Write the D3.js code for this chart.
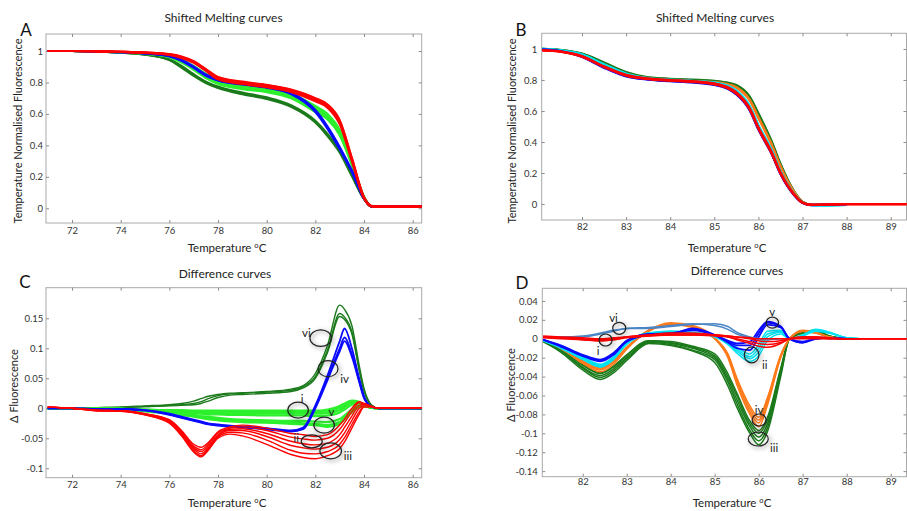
<!DOCTYPE html>
<html><head><meta charset="utf-8">
<script src="https://cdn.jsdelivr.net/npm/d3@7"></script>
<style>
body{margin:0;background:#fff;}
svg{display:block;font-family:Lato,"Open Sans",sans-serif;}
</style></head><body>
<svg id="chart" width="907" height="511"></svg>
<script>
// ---------------- DATA ----------------
// Panel A : shifted melting curves (temperature grid + replicate curves per group)
const tempsA = [71, 72, 73, 74, 75, 76, 76.5, 77, 77.5, 78, 79, 80, 81, 82, 82.5, 83, 83.5, 84, 84.3, 84.6, 85, 86, 86.5];
const meltA_darkgreen = [
  [1.0, 1.0, 0.996, 0.99, 0.978, 0.945, 0.9, 0.847, 0.8, 0.77, 0.73, 0.7, 0.65, 0.55, 0.466, 0.36, 0.21, 0.06, 0.012, 0.01, 0.01, 0.01, 0.01],
  [1.0, 1.0, 0.996, 0.99, 0.977, 0.942, 0.895, 0.842, 0.796, 0.765, 0.725, 0.695, 0.645, 0.545, 0.46, 0.355, 0.205, 0.058, 0.012, 0.01, 0.01, 0.01, 0.01],
  [1.0, 1.0, 0.996, 0.99, 0.979, 0.948, 0.905, 0.852, 0.805, 0.774, 0.735, 0.705, 0.655, 0.556, 0.472, 0.365, 0.215, 0.062, 0.012, 0.01, 0.01, 0.01, 0.01]
];
const meltA_green = [
  [1.0, 1.0, 0.997, 0.993, 0.985, 0.97, 0.945, 0.905, 0.855, 0.815, 0.785, 0.765, 0.73, 0.65, 0.6, 0.5, 0.3, 0.075, 0.012, 0.01, 0.01, 0.01, 0.01],
  [1.0, 1.0, 0.997, 0.993, 0.985, 0.968, 0.94, 0.898, 0.847, 0.808, 0.778, 0.758, 0.722, 0.64, 0.59, 0.49, 0.29, 0.07, 0.012, 0.01, 0.01, 0.01, 0.01],
  [1.0, 1.0, 0.997, 0.992, 0.984, 0.965, 0.935, 0.892, 0.84, 0.8, 0.77, 0.75, 0.715, 0.63, 0.58, 0.48, 0.285, 0.07, 0.012, 0.01, 0.01, 0.01, 0.01],
  [1.0, 1.0, 0.997, 0.992, 0.983, 0.962, 0.93, 0.886, 0.833, 0.795, 0.763, 0.743, 0.706, 0.62, 0.57, 0.47, 0.28, 0.068, 0.012, 0.01, 0.01, 0.01, 0.01],
  [1.0, 1.0, 0.996, 0.991, 0.982, 0.96, 0.926, 0.88, 0.828, 0.79, 0.758, 0.738, 0.7, 0.612, 0.565, 0.465, 0.275, 0.065, 0.012, 0.01, 0.01, 0.01, 0.01]
];
const meltA_blue = [
  [1.0, 1.0, 0.997, 0.993, 0.985, 0.97, 0.945, 0.9, 0.85, 0.82, 0.795, 0.775, 0.735, 0.625, 0.52, 0.39, 0.24, 0.065, 0.012, 0.01, 0.01, 0.01, 0.01],
  [1.0, 1.0, 0.997, 0.993, 0.985, 0.968, 0.94, 0.895, 0.845, 0.815, 0.79, 0.77, 0.73, 0.618, 0.512, 0.382, 0.235, 0.063, 0.012, 0.01, 0.01, 0.01, 0.01],
  [1.0, 1.0, 0.997, 0.992, 0.984, 0.966, 0.938, 0.893, 0.843, 0.812, 0.787, 0.767, 0.726, 0.612, 0.505, 0.375, 0.23, 0.06, 0.012, 0.01, 0.01, 0.01, 0.01]
];
const meltA_red = [
  [1.0, 1.0, 0.998, 0.995, 0.99, 0.98, 0.965, 0.935, 0.885, 0.835, 0.805, 0.785, 0.755, 0.7, 0.66, 0.56, 0.32, 0.07, 0.015, 0.01, 0.01, 0.01, 0.01],
  [1.0, 1.0, 0.998, 0.995, 0.99, 0.978, 0.96, 0.93, 0.88, 0.828, 0.798, 0.778, 0.748, 0.69, 0.65, 0.548, 0.31, 0.066, 0.013, 0.01, 0.01, 0.01, 0.01],
  [1.0, 1.0, 0.998, 0.994, 0.988, 0.975, 0.956, 0.925, 0.874, 0.82, 0.79, 0.77, 0.74, 0.68, 0.64, 0.535, 0.3, 0.062, 0.012, 0.01, 0.01, 0.01, 0.01],
  [1.0, 1.0, 0.998, 0.995, 0.99, 0.979, 0.962, 0.932, 0.882, 0.831, 0.801, 0.781, 0.751, 0.695, 0.655, 0.552, 0.315, 0.068, 0.014, 0.01, 0.01, 0.01, 0.01]
];

// Panel B : shifted melting curves
const tempsB = [81.1, 81.5, 82, 82.5, 83, 83.5, 84, 84.5, 85, 85.3, 85.5, 85.8, 86, 86.3, 86.5, 86.8, 87, 87.2, 87.5, 88, 88.5, 89, 89.4];
const meltB_darkgreen = [
  [1.0, 0.993, 0.968, 0.91, 0.848, 0.815, 0.806, 0.8, 0.793, 0.78, 0.765, 0.69, 0.58, 0.4, 0.255, 0.085, 0.014, -0.004, -0.004, 0, null, null, null],
  [1.0, 0.994, 0.97, 0.913, 0.851, 0.817, 0.808, 0.802, 0.795, 0.783, 0.768, 0.695, 0.585, 0.405, 0.26, 0.087, 0.015, -0.004, -0.004, 0, null, null, null]
];
const meltB_orange = [
  [0.995, 0.988, 0.958, 0.898, 0.838, 0.808, 0.796, 0.79, 0.784, 0.77, 0.75, 0.668, 0.553, 0.38, 0.24, 0.08, 0.012, -0.006, -0.006, -0.001, null, null, null],
  [0.996, 0.989, 0.96, 0.9, 0.84, 0.81, 0.798, 0.792, 0.786, 0.773, 0.754, 0.674, 0.56, 0.386, 0.245, 0.082, 0.013, -0.005, -0.006, -0.001, null, null, null]
];
const meltB_cyan = [
  [1.0, 0.99, 0.962, 0.897, 0.838, 0.81, 0.8, 0.793, 0.781, 0.76, 0.728, 0.63, 0.505, 0.345, 0.21, 0.068, 0.009, -0.008, -0.01, -0.006, null, null, null],
  [1.0, 0.992, 0.965, 0.902, 0.842, 0.812, 0.802, 0.795, 0.784, 0.764, 0.733, 0.635, 0.51, 0.35, 0.214, 0.07, 0.01, -0.008, -0.01, -0.006, null, null, null]
];
const meltB_blue = [
  [0.995, 0.985, 0.948, 0.878, 0.823, 0.802, 0.792, 0.784, 0.768, 0.743, 0.707, 0.605, 0.48, 0.322, 0.193, 0.06, 0.007, -0.007, -0.005, -0.001, null, null, null],
  [0.997, 0.987, 0.951, 0.882, 0.826, 0.804, 0.794, 0.786, 0.771, 0.746, 0.71, 0.608, 0.483, 0.326, 0.196, 0.062, 0.008, -0.006, -0.005, -0.001, null, null, null]
];
const meltB_red = [
  [0.99, 0.983, 0.952, 0.885, 0.83, 0.807, 0.797, 0.79, 0.775, 0.75, 0.715, 0.615, 0.49, 0.33, 0.2, 0.065, 0.008, -0.006, -0.004, 0, 0, 0, 0],
  [0.992, 0.985, 0.955, 0.888, 0.833, 0.81, 0.8, 0.793, 0.778, 0.754, 0.72, 0.62, 0.495, 0.335, 0.205, 0.067, 0.009, -0.005, -0.003, 0, 0, 0, 0],
  [0.99, 0.982, 0.95, 0.882, 0.828, 0.805, 0.795, 0.788, 0.772, 0.747, 0.712, 0.61, 0.485, 0.325, 0.197, 0.063, 0.008, -0.006, -0.004, 0, 0, 0, 0]
];

// Panel C : difference curves
const tempsC = [71, 72, 73, 74, 75, 76, 76.5, 77, 77.3, 77.6, 78, 78.5, 79, 80, 81, 81.5, 82, 82.5, 83, 83.2, 83.5, 83.8, 84, 84.3, 84.6, 85, 86, 86.5];
const diffC_darkgreen = [
  [0, 0, 0.001, 0.002, 0.004, 0.006, 0.008, 0.012, 0.016, 0.02, 0.023, 0.025, 0.026, 0.028, 0.032, 0.038, 0.058, 0.105, 0.172, 0.165, 0.138, 0.072, 0.033, 0.006, 0, 0, 0, 0],
  [0, 0, 0.001, 0.002, 0.003, 0.005, 0.006, 0.008, 0.011, 0.016, 0.021, 0.024, 0.025, 0.027, 0.03, 0.036, 0.053, 0.097, 0.158, 0.152, 0.128, 0.066, 0.03, 0.005, 0, 0, 0, 0],
  [0, 0, 0.001, 0.001, 0.003, 0.004, 0.005, 0.006, 0.008, 0.012, 0.018, 0.022, 0.023, 0.025, 0.028, 0.034, 0.05, 0.093, 0.153, 0.148, 0.124, 0.064, 0.029, 0.005, 0, 0, 0, 0]
];
const diffC_green = [
  [0, 0, 0, -0.001, -0.002, -0.003, -0.003, -0.004, -0.004, -0.004, -0.004, -0.004, -0.004, -0.004, -0.004, -0.004, -0.004, -0.002, 0.004, 0.008, 0.013, 0.011, 0.006, 0.001, 0, 0, 0, 0],
  [0, 0, 0, -0.001, -0.002, -0.004, -0.005, -0.006, -0.006, -0.006, -0.006, -0.006, -0.006, -0.006, -0.006, -0.006, -0.006, -0.005, 0.001, 0.005, 0.011, 0.01, 0.005, 0.001, 0, 0, 0, 0],
  [0, 0, 0, -0.001, -0.003, -0.005, -0.006, -0.007, -0.007, -0.008, -0.008, -0.008, -0.008, -0.009, -0.009, -0.009, -0.009, -0.008, -0.003, 0.002, 0.009, 0.009, 0.005, 0.001, 0, 0, 0, 0],
  [0, 0, 0, -0.001, -0.003, -0.006, -0.007, -0.008, -0.009, -0.01, -0.01, -0.011, -0.011, -0.012, -0.012, -0.012, -0.013, -0.012, -0.007, -0.002, 0.006, 0.008, 0.005, 0.001, 0, 0, 0, 0],
  [0, 0, 0, -0.001, -0.004, -0.007, -0.009, -0.011, -0.013, -0.014, -0.016, -0.018, -0.019, -0.02, -0.021, -0.021, -0.022, -0.023, -0.018, -0.012, -0.002, 0.005, 0.004, 0.001, 0, 0, 0, 0],
  [0, 0, 0, -0.002, -0.004, -0.008, -0.01, -0.013, -0.015, -0.016, -0.018, -0.02, -0.021, -0.023, -0.024, -0.025, -0.026, -0.028, -0.023, -0.016, -0.005, 0.003, 0.004, 0.001, 0, 0, 0, 0],
  [0, 0, 0, -0.002, -0.005, -0.009, -0.011, -0.014, -0.016, -0.018, -0.02, -0.022, -0.023, -0.024, -0.026, -0.027, -0.028, -0.031, -0.026, -0.018, -0.007, 0.002, 0.003, 0.001, 0, 0, 0, 0]
];
const diffC_blue = [
  [0, 0, -0.001, -0.001, -0.003, -0.009, -0.014, -0.019, -0.022, -0.025, -0.027, -0.029, -0.03, -0.033, -0.037, -0.032, 0.005, 0.055, 0.112, 0.133, 0.1, 0.05, 0.02, 0.003, 0, 0, 0, 0],
  [0, 0, -0.001, -0.001, -0.003, -0.01, -0.015, -0.02, -0.023, -0.026, -0.028, -0.03, -0.031, -0.034, -0.038, -0.034, 0.002, 0.05, 0.1, 0.118, 0.09, 0.046, 0.018, 0.003, 0, 0, 0, 0],
  [0, 0, -0.001, -0.002, -0.004, -0.011, -0.016, -0.021, -0.024, -0.027, -0.029, -0.031, -0.032, -0.035, -0.039, -0.035, 0, 0.047, 0.095, 0.112, 0.086, 0.044, 0.017, 0.003, 0, 0, 0, 0]
];
const diffC_red = [
  [0.002, 0, -0.003, -0.004, -0.009, -0.019, -0.037, -0.06, -0.065, -0.057, -0.039, -0.031, -0.028, -0.033, -0.042, -0.044, -0.047, -0.044, -0.028, -0.018, 0, 0.011, 0.008, 0.003, 0, 0, 0, 0],
  [0.002, 0, -0.003, -0.004, -0.009, -0.02, -0.039, -0.063, -0.069, -0.06, -0.041, -0.033, -0.031, -0.037, -0.048, -0.051, -0.053, -0.05, -0.035, -0.024, -0.006, 0.009, 0.008, 0.003, 0, 0, 0, 0],
  [0.002, 0, -0.003, -0.004, -0.01, -0.021, -0.04, -0.066, -0.072, -0.063, -0.044, -0.035, -0.034, -0.042, -0.055, -0.059, -0.061, -0.058, -0.044, -0.032, -0.013, 0.005, 0.007, 0.003, 0, 0, 0, 0],
  [0.002, 0, -0.004, -0.004, -0.01, -0.022, -0.042, -0.068, -0.076, -0.066, -0.046, -0.037, -0.037, -0.047, -0.062, -0.066, -0.068, -0.065, -0.052, -0.041, -0.02, 0, 0.006, 0.003, 0, 0, 0, 0],
  [0.002, 0, -0.004, -0.004, -0.011, -0.024, -0.044, -0.071, -0.079, -0.068, -0.048, -0.04, -0.041, -0.053, -0.07, -0.075, -0.076, -0.072, -0.06, -0.049, -0.027, -0.006, 0.004, 0.003, 0, 0, 0, 0],
  [0.002, 0, -0.004, -0.005, -0.011, -0.025, -0.046, -0.073, -0.081, -0.07, -0.05, -0.043, -0.046, -0.06, -0.077, -0.082, -0.084, -0.079, -0.067, -0.056, -0.033, -0.01, 0.002, 0.002, 0, 0, 0, 0]
];

// Panel D : difference curves
const tempsD = [81.1, 81.5, 82, 82.4, 82.7, 83, 83.5, 84, 84.5, 85, 85.3, 85.5, 85.8, 86, 86.2, 86.5, 86.7, 87, 87.3, 87.6, 88, 88.3, 89, 89.4];
const diffD_darkgreen = [
  [-0.003, -0.014, -0.033, -0.043, -0.036, -0.023, -0.005, -0.007, -0.013, -0.025, -0.05, -0.072, -0.1, -0.112, -0.098, -0.04, 0, 0.007, 0.009, 0.003, 0, null, null, null],
  [-0.003, -0.013, -0.031, -0.041, -0.034, -0.021, -0.004, -0.006, -0.012, -0.022, -0.046, -0.068, -0.097, -0.108, -0.094, -0.037, 0, 0.007, 0.009, 0.003, 0, null, null, null],
  [-0.003, -0.012, -0.03, -0.039, -0.032, -0.02, -0.003, -0.005, -0.01, -0.02, -0.043, -0.064, -0.093, -0.104, -0.09, -0.035, 0, 0.006, 0.008, 0.003, 0, null, null, null],
  [-0.002, -0.011, -0.028, -0.037, -0.03, -0.018, -0.002, -0.004, -0.009, -0.018, -0.04, -0.06, -0.09, -0.1, -0.086, -0.033, 0, 0.006, 0.008, 0.002, 0, null, null, null],
  [-0.002, -0.011, -0.027, -0.036, -0.029, -0.017, -0.002, -0.003, -0.008, -0.016, -0.037, -0.057, -0.087, -0.097, -0.083, -0.031, 0, 0.006, 0.007, 0.002, 0, null, null, null]
];
const diffD_orange = [
  [-0.002, -0.01, -0.026, -0.035, -0.027, -0.011, 0.008, 0.016, 0.013, 0.0, -0.02, -0.048, -0.08, -0.093, -0.07, -0.02, 0, 0.008, 0.006, 0.002, 0, null, null, null],
  [-0.002, -0.01, -0.025, -0.033, -0.025, -0.01, 0.009, 0.017, 0.014, 0.001, -0.018, -0.045, -0.077, -0.089, -0.067, -0.019, 0, 0.009, 0.007, 0.002, 0, null, null, null],
  [-0.002, -0.009, -0.024, -0.032, -0.024, -0.009, 0.009, 0.016, 0.013, 0.001, -0.017, -0.043, -0.074, -0.086, -0.064, -0.018, 0, 0.008, 0.006, 0.002, 0, null, null, null],
  [-0.002, -0.009, -0.023, -0.031, -0.023, -0.009, 0.008, 0.015, 0.012, 0.0, -0.016, -0.041, -0.071, -0.083, -0.062, -0.017, 0, 0.008, 0.006, 0.002, 0, null, null, null]
];
const diffD_cyan = [
  [-0.002, -0.01, -0.022, -0.03, -0.022, -0.006, 0.005, 0.007, 0.006, 0.002, -0.006, -0.015, -0.024, -0.018, -0.002, 0.005, 0, 0.004, 0.009, 0.007, 0.001, 0, null, null],
  [-0.002, -0.009, -0.021, -0.029, -0.021, -0.005, 0.006, 0.007, 0.006, 0.002, -0.005, -0.013, -0.021, -0.014, 0.002, 0.007, 0, 0.004, 0.01, 0.007, 0.001, 0, null, null],
  [-0.002, -0.009, -0.02, -0.028, -0.02, -0.004, 0.006, 0.008, 0.006, 0.003, -0.004, -0.011, -0.019, -0.01, 0.005, 0.008, 0, 0.003, 0.009, 0.006, 0.001, 0, null, null],
  [-0.002, -0.008, -0.019, -0.027, -0.019, -0.004, 0.006, 0.008, 0.007, 0.003, -0.003, -0.009, -0.016, -0.006, 0.008, 0.009, 0, 0.003, 0.008, 0.006, 0.001, 0, null, null]
];
const diffD_blue = [
  [-0.001, -0.008, -0.018, -0.024, -0.017, -0.003, 0.004, 0.005, 0.011, 0.004, -0.004, -0.01, -0.012, 0.002, 0.015, 0.012, 0, -0.004, 0.001, 0.001, 0, 0, null, null],
  [-0.001, -0.008, -0.018, -0.023, -0.016, -0.002, 0.005, 0.005, 0.01, 0.004, -0.003, -0.007, -0.007, 0.006, 0.017, 0.013, 0, -0.004, 0, 0.001, 0, 0, null, null],
  [-0.001, -0.007, -0.017, -0.022, -0.015, -0.002, 0.005, 0.006, 0.009, 0.004, -0.002, -0.005, -0.003, 0.009, 0.018, 0.013, 0, -0.003, 0, 0.001, 0, 0, null, null]
];
const diffD_steelblue = [
  [0.002, 0.002, 0.002, 0.005, 0.008, 0.011, 0.011, 0.013, 0.015, 0.016, 0.013, 0.007, 0.002, 0, -0.001, 0, 0, 0.001, 0.001, 0, 0, 0, null, null],
  [0.002, 0.002, 0.003, 0.006, 0.009, 0.011, 0.012, 0.014, 0.016, 0.014, 0.01, 0.005, 0.001, 0, 0, 0, 0, 0.002, 0.002, 0.001, 0, 0, null, null]
];
const diffD_red = [
  [0.002, 0.001, 0, -0.001, 0, 0.002, 0.004, 0.005, 0.005, 0.004, 0.003, 0.002, 0, -0.002, -0.003, -0.002, 0, 0.001, 0.001, 0, 0, 0, 0, 0],
  [0.002, 0.001, -0.001, -0.002, -0.001, 0.001, 0.003, 0.004, 0.004, 0.003, 0.002, 0, -0.003, -0.005, -0.006, -0.004, 0, 0.002, 0.002, 0.001, 0, 0, 0, 0],
  [0.001, 0, -0.001, -0.002, -0.001, 0.002, 0.004, 0.006, 0.006, 0.004, 0.002, -0.001, -0.005, -0.008, -0.009, -0.005, 0, 0.002, 0.002, 0.001, 0, 0, 0, 0],
  [0.003, 0.002, 0.001, 0, 0.001, 0.002, 0.003, 0.004, 0.004, 0.004, 0.003, 0.002, 0.001, 0, 0, 0, 0, 0, 0, 0, 0, 0, 0, 0]
];

// Tick values
const xTicksAC = [72, 74, 76, 78, 80, 82, 84, 86];
const xTicksBD = [82, 83, 84, 85, 86, 87, 88, 89];
const yTicksAB = [0, 0.2, 0.4, 0.6, 0.8, 1];
const yTicksC = [-0.1, -0.05, 0, 0.05, 0.1, 0.15];
const yTicksD = [-0.14, -0.12, -0.1, -0.08, -0.06, -0.04, -0.02, 0, 0.02, 0.04];

// Annotations: [label, ellipse T, ellipse value, label T, label value]
const annotC = [
  ["vi", 82.22, 0.117, 81.63, 0.126],
  ["iv", 82.52, 0.066, 83.2, 0.049],
  ["i", 81.29, -0.003, 81.46, 0.016],
  ["v", 82.36, -0.028, 82.66, -0.006],
  ["ii", 81.85, -0.055, 81.21, -0.049],
  ["iii", 82.63, -0.071, 83.34, -0.078]
];
const annotD = [
  ["vi", 82.83, 0.0111, 82.70, 0.0228],
  ["i", 82.52, -0.0013, 82.35, -0.0119],
  ["v", 86.31, 0.017, 86.31, 0.0287],
  ["ii", 85.84, -0.0171, 86.14, -0.0277],
  ["iv", 86.01, -0.0859, 86.01, -0.0743],
  ["iii", 85.99, -0.106, 86.35, -0.1152]
];

// ---------------- STYLE / LAYOUT ----------------
const COLORS = {red:"#ff0000", green:"#2cf02c", darkgreen:"#1b7a1b", blue:"#0a0aff",
                cyan:"#00e1f2", orange:"#ff7a1a", steelblue:"#4a86c5"};
const ellipseRadiiC = [[10.8,8.3],[10,8],[10.3,8],[10.3,8],[10.5,6.5],[10.8,8]];
const ellipseRadiiD = [[6.5,6],[6.5,6],[6.2,5.5],[7.3,8],[7,6],[10,7]];

const svg = d3.select("#chart");
const defs = svg.append("defs");
const shadow = defs.append("filter").attr("id", "shade").attr("x", "-50%").attr("y", "-50%").attr("width", "200%").attr("height", "200%");
shadow.append("feGaussianBlur").attr("stdDeviation", 2);

function panel(p) {
  const x = d3.scaleLinear().domain(p.xDomain).range([p.left, p.right]);
  const y = d3.scaleLinear().domain(p.yDomain).range([p.bottom, p.top]);
  const g = svg.append("g");
  const clipId = "clip" + p.id;
  defs.append("clipPath").attr("id", clipId).append("rect")
    .attr("x", p.left).attr("y", p.top).attr("width", p.right - p.left).attr("height", p.bottom - p.top);

  // frame
  g.append("rect").attr("x", p.left).attr("y", p.top).attr("width", p.right - p.left)
    .attr("height", p.bottom - p.top).attr("fill", "none").attr("stroke", "#a9a9a9").attr("stroke-width", 1);

  const styleAxis = sel => {
    sel.select(".domain").remove();
    sel.selectAll(".tick line").attr("stroke", "#8c8c8c");
    sel.selectAll(".tick text").attr("fill", "#333").style("font-size", "9.5px").style("font-family", "Lato, 'Open Sans', sans-serif");
  };
  g.append("g").attr("transform", `translate(0,${p.bottom})`)
    .call(d3.axisBottom(x).tickValues(p.xTicks).tickSizeInner(-3).tickSizeOuter(0).tickPadding(p.xPad).tickFormat(d => String(d)))
    .call(styleAxis);
  g.append("g").attr("transform", `translate(0,${p.top})`)
    .call(d3.axisTop(x).tickValues(p.xTicks).tickSizeInner(-3).tickSizeOuter(0).tickFormat(""))
    .call(styleAxis);
  g.append("g").attr("transform", `translate(${p.left},0)`)
    .call(d3.axisLeft(y).tickValues(p.yTicks).tickSizeInner(-3).tickSizeOuter(0).tickPadding(p.yPad).tickFormat(d => String(+d.toFixed(3))))
    .call(styleAxis);
  g.append("g").attr("transform", `translate(${p.right},0)`)
    .call(d3.axisRight(y).tickValues(p.yTicks).tickSizeInner(-3).tickSizeOuter(0).tickFormat(""))
    .call(styleAxis);

  // curves
  const line = d3.line().defined(d => d[1] !== null)
    .x(d => x(d[0])).y(d => y(d[1])).curve(d3.curveMonotoneX);
  const cg = g.append("g").attr("clip-path", `url(#${clipId})`);
  p.groups.forEach(grp => {
    grp.curves.forEach(vals => {
      cg.append("path").datum(p.temps.map((t, i) => [t, vals[i]]))
        .attr("d", line).attr("fill", "none").attr("stroke", COLORS[grp.color])
        .attr("stroke-width", grp.lw || p.lw).attr("stroke-linejoin", "round");
    });
  });

  // annotations
  if (p.annot) {
    p.annot.forEach((a, i) => {
      const [rx, ry] = p.radii[i];
      g.append("ellipse").attr("cx", x(a[1]) + 1.5).attr("cy", y(a[2]) + 1.5).attr("rx", rx).attr("ry", ry)
        .attr("fill", "none").attr("stroke", "#000").attr("stroke-opacity", 0.25).attr("stroke-width", 2.5)
        .attr("filter", "url(#shade)");
      g.append("ellipse").attr("cx", x(a[1])).attr("cy", y(a[2])).attr("rx", rx).attr("ry", ry)
        .attr("fill", "none").attr("stroke", "#222").attr("stroke-width", 1.2);
      g.append("text").attr("x", x(a[3])).attr("y", y(a[4])).attr("text-anchor", "middle")
        .attr("dominant-baseline", "central").attr("fill", "#222").style("font-size", "11.5px").text(a[0]);
    });
  }

  // titles, letters, axis labels
  g.append("text").attr("x", p.titleX).attr("y", p.titleY).attr("text-anchor", "middle")
    .attr("fill", "#222").style("font-size", "12px").text(p.title);
  g.append("text").attr("x", p.letterX).attr("y", p.letterY).attr("text-anchor", "middle")
    .attr("fill", "#111").style("font-size", "17px").text(p.letter);
  const xl = g.append("text").attr("x", p.xLabelX).attr("y", p.xLabelY).attr("text-anchor", "middle")
    .attr("fill", "#222").style("font-size", "11.5px");
  xl.append("tspan").text("Temperature ");
  xl.append("tspan").attr("dy", "-4").style("font-size", "7.5px").text("o");
  xl.append("tspan").attr("dy", "4").text("C");
  g.append("text").attr("transform", `translate(${p.yLabelX},${p.yLabelY}) rotate(-90)`)
    .attr("text-anchor", "middle").attr("fill", "#222").style("font-size", p.yLabelSize).text(p.yLabel);
}

panel({id:"A", left:46, right:421.7, top:34, bottom:223, xDomain:[70.93, 86.37], yDomain:[-0.0935, 1.108],
  xTicks:xTicksAC, yTicks:yTicksAB, xPad:4.5, yPad:3, temps:tempsA, lw:2.2,
  groups:[{color:"darkgreen", curves:meltA_darkgreen},{color:"green", curves:meltA_green},
          {color:"blue", curves:meltA_blue},{color:"red", curves:meltA_red}],
  title:"Shifted Melting curves", titleX:223.5, titleY:22, letter:"A", letterX:26, letterY:36,
  xLabelX:227, xLabelY:252, yLabel:"Temperature Normalised Fluorescence", yLabelX:21.5, yLabelY:131, yLabelSize:"11px"});

panel({id:"B", left:541.7, right:906.5, top:33.3, bottom:220, xDomain:[81.086, 89.358], yDomain:[-0.103, 1.101],
  xTicks:xTicksBD, yTicks:yTicksAB, xPad:3.3, yPad:4.4, temps:tempsB, lw:2.2,
  groups:[{color:"darkgreen", curves:meltB_darkgreen},{color:"orange", curves:meltB_orange},
          {color:"cyan", curves:meltB_cyan},{color:"blue", curves:meltB_blue},{color:"red", curves:meltB_red}],
  title:"Shifted Melting curves", titleX:715, titleY:22, letter:"B", letterX:521, letterY:36,
  xLabelX:727, xLabelY:252, yLabel:"Temperature Normalised Fluorescence", yLabelX:516, yLabelY:131, yLabelSize:"11px"});

panel({id:"C", left:46, right:421.7, top:287.7, bottom:477.7, xDomain:[70.93, 86.37], yDomain:[-0.1157, 0.201],
  xTicks:xTicksAC, yTicks:yTicksC, xPad:3.3, yPad:2.7, temps:tempsC, lw:1.4,
  groups:[{color:"darkgreen", curves:diffC_darkgreen},{color:"green", curves:diffC_green, lw:2.2},
          {color:"blue", curves:diffC_blue, lw:1.8},{color:"red", curves:diffC_red}],
  annot:annotC, radii:ellipseRadiiC,
  title:"Difference curves", titleX:225, titleY:278, letter:"C", letterX:25, letterY:288,
  xLabelX:227, xLabelY:507, yLabel:"Δ Fluorescence", yLabelX:18, yLabelY:386, yLabelSize:"11px"});

panel({id:"D", left:542.3, right:906.5, top:288.3, bottom:476.7, xDomain:[81.082, 89.359], yDomain:[-0.1459, 0.0534],
  xTicks:xTicksBD, yTicks:yTicksD, xPad:1.8, yPad:4.5, temps:tempsD, lw:1.5,
  groups:[{color:"darkgreen", curves:diffD_darkgreen},{color:"orange", curves:diffD_orange},
          {color:"cyan", curves:diffD_cyan},{color:"blue", curves:diffD_blue, lw:1.8},
          {color:"steelblue", curves:diffD_steelblue},{color:"red", curves:diffD_red}],
  annot:annotD, radii:ellipseRadiiD,
  title:"Difference curves", titleX:737, titleY:275, letter:"D", letterX:522, letterY:289,
  xLabelX:732, xLabelY:507, yLabel:"Δ Fluorescence", yLabelX:515, yLabelY:385, yLabelSize:"11px"});
</script>
</body></html>
